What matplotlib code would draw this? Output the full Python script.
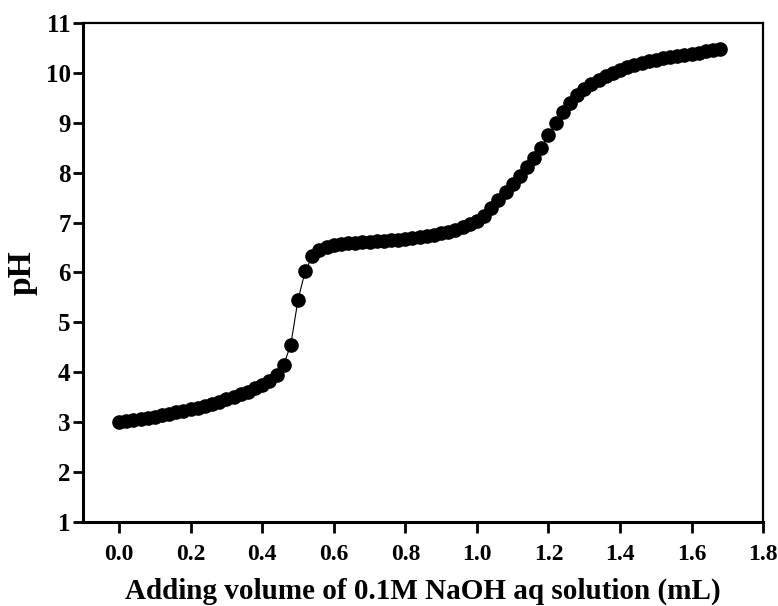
import matplotlib
matplotlib.use('Agg')
import matplotlib.pyplot as plt
import numpy as np

# NaOH volume added (mL) and measured pH
volume = [0.00, 0.02, 0.04, 0.06, 0.08, 0.10, 0.12, 0.14, 0.16, 0.18,
          0.20, 0.22, 0.24, 0.26, 0.28, 0.30, 0.32, 0.34, 0.36, 0.38,
          0.40, 0.42, 0.44, 0.46, 0.48, 0.50, 0.52, 0.54, 0.56, 0.58,
          0.60, 0.62, 0.64, 0.66, 0.68, 0.70, 0.72, 0.74, 0.76, 0.78,
          0.80, 0.82, 0.84, 0.86, 0.88, 0.90, 0.92, 0.94, 0.96, 0.98,
          1.00, 1.02, 1.04, 1.06, 1.08, 1.10, 1.12, 1.14, 1.16, 1.18,
          1.20, 1.22, 1.24, 1.26, 1.28, 1.30, 1.32, 1.34, 1.36, 1.38,
          1.40, 1.42, 1.44, 1.46, 1.48, 1.50, 1.52, 1.54, 1.56, 1.58,
          1.60, 1.62, 1.64, 1.66, 1.68]
ph = [3.00, 3.02, 3.04, 3.06, 3.08, 3.11, 3.14, 3.17, 3.20, 3.23,
      3.26, 3.29, 3.33, 3.37, 3.41, 3.46, 3.51, 3.56, 3.61, 3.68,
      3.75, 3.83, 3.94, 4.15, 4.55, 5.45, 6.02, 6.32, 6.45, 6.51,
      6.54, 6.56, 6.58, 6.59, 6.60, 6.61, 6.62, 6.63, 6.64, 6.65,
      6.66, 6.68, 6.70, 6.72, 6.75, 6.78, 6.82, 6.86, 6.91, 6.97,
      7.04, 7.14, 7.30, 7.45, 7.62, 7.78, 7.93, 8.12, 8.30, 8.50,
      8.75, 9.00, 9.22, 9.40, 9.55, 9.67, 9.77, 9.85, 9.93, 10.00,
      10.06, 10.11, 10.15, 10.19, 10.23, 10.26, 10.29, 10.31, 10.33, 10.36,
      10.38, 10.40, 10.43, 10.46, 10.48]

xticks = [0.0, 0.2, 0.4, 0.6, 0.8, 1.0, 1.2, 1.4, 1.6, 1.8]
yticks = list(range(1, 12))

plt.rcParams['font.family'] = 'Liberation Serif'
plt.rcParams['font.weight'] = 'bold'

fig = plt.figure(figsize=(7.78, 6.06), dpi=100)
ax = fig.add_axes([0.107, 0.139, 0.874, 0.823])

ax.plot(volume, ph, '-', color='black', lw=0.8, marker='o', markersize=9.5,
        markerfacecolor='black', markeredgecolor='black')

ax.set_xlim(-0.1, 1.8)
ax.set_ylim(1, 11)
ax.set_xticks(xticks)
ax.set_xticklabels(['%.1f' % t for t in xticks])
ax.set_yticks(yticks)

for s in ['left', 'bottom']:
    ax.spines[s].set_linewidth(2.2)
for s in ['top', 'right']:
    ax.spines[s].set_linewidth(1.6)

ax.tick_params(axis='both', direction='out', width=2)
ax.tick_params(axis='x', length=8, pad=8, labelsize=17)
ax.tick_params(axis='y', length=7, pad=2, labelsize=18)

ax.set_xlabel('Adding volume of 0.1M NaOH aq solution (mL)', fontsize=21,
              fontweight='bold', labelpad=9)
ax.set_ylabel('pH', fontsize=24, fontweight='bold', labelpad=6)

fig.savefig('out.png', dpi=100)
